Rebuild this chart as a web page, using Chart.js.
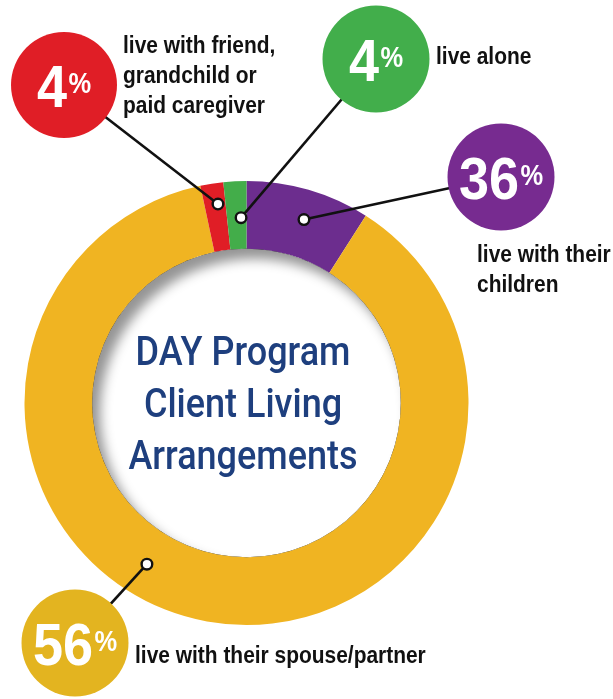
<!DOCTYPE html>
<html>
<head>
<meta charset="utf-8">
<script src="https://cdn.jsdelivr.net/npm/chart.js@4.4.1/dist/chart.umd.min.js"></script>
<style>
html,body{margin:0;padding:0;background:#ffffff;overflow:hidden}
#wrap{position:relative;width:613px;height:699px}
</style>
</head>
<body>
<div id="wrap"><canvas id="c" width="613" height="699"></canvas></div>
<script>
// ---- data ----
const categories = [
  'live with their children',
  'live with their spouse/partner',
  'live with friend, grandchild or paid caregiver',
  'live alone'
];
// share of the ring each slice actually occupies in the picture (degrees, clockwise from 12 o'clock)
const drawnArcShares = [32.5, 315.5, 6, 6];
// percentages printed in the bubbles
const percentLabels = ['36', '56', '4', '4'];
const labelLines = [
  ['live with their', 'children'],
  ['live with their spouse/partner'],
  ['live with friend,', 'grandchild or', 'paid caregiver'],
  ['live alone']
];
const titleLines = ['DAY Program', 'Client Living', 'Arrangements'];

// ---- styles / layout ----
const style = {
  slice: ['#6C2D8E', '#F0B422', '#E01E26', '#43AD4A'],
  bubble: ['#772B90', '#E3B420', '#E01E26', '#42AE4B'],
  title: '#1E3F7E'
};
const callouts = [
  { bx: 501, by: 177, br: 53.5, tx: 477, ty: [262, 292], f: 0.535, rf: 0.56 },
  { bx: 75,  by: 643, br: 53.5, tx: 135, ty: [663],      f: 0.568, rf: 0.52 },
  { bx: 64,  by: 85,  br: 53,   tx: 123, ty: [53, 83, 113], f: 0.64, rf: 0.69 },
  { bx: 376, by: 59,  br: 53.5, tx: 436, ty: [64],       f: 0.72, rf: 0.46 }
];

function drawText(ctx, s, x, y, font, sx, align) {
  ctx.save();
  ctx.font = font;
  ctx.textAlign = 'left';
  ctx.textBaseline = 'alphabetic';
  const w = ctx.measureText(s).width * sx;
  const x0 = align === 'center' ? x - w / 2 : x;
  ctx.translate(x0, y);
  ctx.scale(sx, 1);
  ctx.fillText(s, 0, 0);
  ctx.restore();
  return w;
}
function measure(ctx, s, font, sx) {
  ctx.save(); ctx.font = font; const w = ctx.measureText(s).width * sx; ctx.restore(); return w;
}

const calloutPlugin = {
  id: 'callouts',
  afterDatasetsDraw(chart) {
    const ctx = chart.ctx;
    const meta = chart.getDatasetMeta(0);
    const a0 = meta.data[0];
    const cx = a0.x, cy = a0.y, rIn = a0.innerRadius;

    // soft inner shadow of the hole (light from the lower right)
    ctx.save();
    ctx.beginPath(); ctx.arc(cx, cy, rIn, 0, Math.PI * 2); ctx.clip();
    ctx.beginPath();
    ctx.arc(cx, cy, rIn + 90, 0, Math.PI * 2);
    ctx.arc(cx, cy, rIn, 0, Math.PI * 2, true);
    ctx.shadowColor = 'rgba(0,0,0,0.42)';
    ctx.shadowBlur = 12;
    ctx.shadowOffsetX = 8;
    ctx.shadowOffsetY = 10;
    ctx.fillStyle = '#000';
    ctx.fill();
    ctx.restore();

    // centre title
    ctx.fillStyle = style.title;
    const tb = [365, 417, 469];
    titleLines.forEach((t, i) => {
      drawText(ctx, t, cx - 3.5, tb[i], '500 40px Roboto, "Liberation Sans", sans-serif', 0.9, 'center');
    });

    // dot positions from arc elements
    const dots = meta.data.map((arc, i) => {
      const c = callouts[i];
      const ang = arc.startAngle + c.f * (arc.endAngle - arc.startAngle);
      const r = arc.innerRadius + c.rf * (arc.outerRadius - arc.innerRadius);
      return { x: arc.x + r * Math.cos(ang), y: arc.y + r * Math.sin(ang) };
    });

    // leader lines
    ctx.save();
    ctx.strokeStyle = '#111';
    ctx.lineWidth = 2.6;
    dots.forEach((d, i) => {
      const c = callouts[i];
      ctx.beginPath(); ctx.moveTo(d.x, d.y); ctx.lineTo(c.bx, c.by); ctx.stroke();
    });
    ctx.restore();

    // bubbles + numbers + labels
    dots.forEach((d, i) => {
      const c = callouts[i];
      ctx.save();
      ctx.fillStyle = style.bubble[i];
      ctx.beginPath(); ctx.arc(c.bx, c.by, c.br, 0, Math.PI * 2); ctx.fill();
      ctx.fillStyle = '#ffffff';
      const fD = 'bold 60px "Liberation Sans", Arial, sans-serif', sD = 0.9;
      const fP = 'bold 30px "Liberation Sans", Arial, sans-serif', sP = 0.85;
      const num = percentLabels[i];
      const wD = measure(ctx, num, fD, sD), wP = measure(ctx, '%', fP, sP);
      const gap = 1.5;
      const x0 = c.bx - (wD + gap + wP) / 2;
      drawText(ctx, num, x0, c.by + 21.5, fD, sD, 'left');
      drawText(ctx, '%', x0 + wD + gap, c.by + 8, fP, sP, 'left');
      ctx.fillStyle = '#111111';
      labelLines[i].forEach((line, k) => {
        drawText(ctx, line, c.tx, c.ty[k], 'bold 23px "Liberation Sans", Arial, sans-serif', 0.91, 'left');
      });
      ctx.restore();

      // dot
      ctx.save();
      ctx.beginPath(); ctx.arc(d.x, d.y, 5.3, 0, Math.PI * 2);
      ctx.fillStyle = '#ffffff'; ctx.fill();
      ctx.lineWidth = 2.4; ctx.strokeStyle = '#111'; ctx.stroke();
      ctx.restore();
    });
  }
};

new Chart(document.getElementById('c').getContext('2d'), {
  type: 'doughnut',
  data: {
    labels: categories,
    datasets: [{
      data: drawnArcShares,
      backgroundColor: style.slice,
      borderWidth: 0,
      hoverOffset: 0
    }]
  },
  options: {
    responsive: false,
    animation: false,
    events: [],
    cutout: '69.5%',
    rotation: 0,
    circumference: 360,
    layout: { padding: { left: 24.5, right: 144.5, top: 181, bottom: 74 } },
    plugins: { legend: { display: false }, tooltip: { enabled: false } }
  },
  plugins: [calloutPlugin]
});
</script>
</body>
</html>
